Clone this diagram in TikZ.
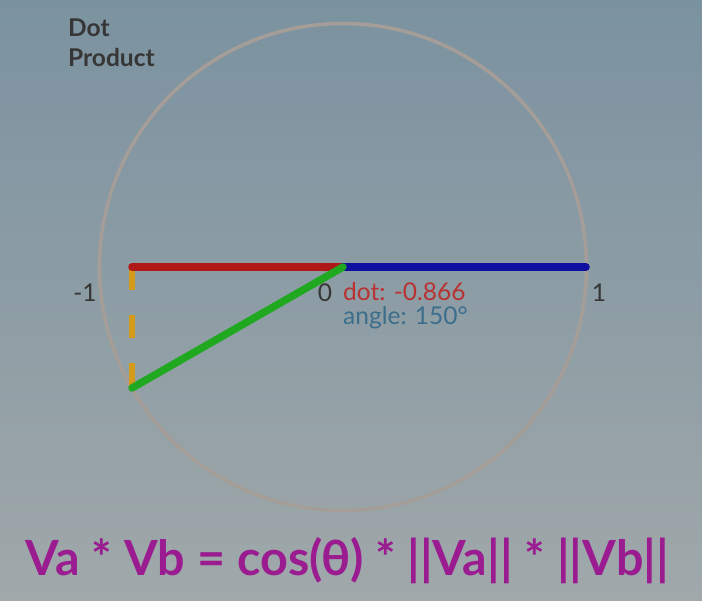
\documentclass[tikz,border=0pt]{standalone}
\usepackage{fontspec}
\setmainfont{Lato}
\definecolor{bgtop}{HTML}{7B92A0}
\definecolor{bgbot}{HTML}{A0A8AA}
\definecolor{ringcol}{HTML}{A59D98}
\definecolor{redvec}{HTML}{B01818}
\definecolor{bluevec}{HTML}{1010A0}
\definecolor{greenvec}{HTML}{20A820}
\definecolor{projcol}{HTML}{D49A1A}
\definecolor{labelcol}{HTML}{363636}
\definecolor{dotcol}{HTML}{B83232}
\definecolor{anglecol}{HTML}{3C6E8C}
\definecolor{formcol}{HTML}{9A1C90}
\tikzset{
  vec/.style={line width=7.5pt, line cap=round},
  axislabel/.style={text=labelcol, font=\fontsize{24.5}{29}\selectfont, inner sep=0pt}
}
\begin{document}
\begin{tikzpicture}[x=1pt, y=-1pt]
        \shade[top color=bgtop, bottom color=bgbot] (0,0) rectangle (702,601);
        \useasboundingbox (0,0) rectangle (702,601);

        \coordinate (origin) at (343,267);
        \draw[ringcol, line width=3.5pt] (origin) circle (243.5);

        \coordinate (tipa) at (586,267);
        \coordinate (tipb) at (132,388);
        \coordinate (foot) at (132,267);

        \draw[projcol, line width=6pt, dash pattern=on 23pt off 25pt] (foot) -- (tipb);
        \draw[vec, redvec] (origin) -- (foot);
        \draw[vec, bluevec] (origin) -- (tipa);
        \draw[vec, greenvec] (origin) -- (tipb);

        \node[axislabel, anchor=base] (minusone) at (85,302) {-1};
        \node[axislabel, anchor=base] (zero) at (325,302) {0};
        \node[axislabel, anchor=base] (one) at (599,302) {1};

        \node[axislabel, text=dotcol, anchor=base west] (dotval) at (343,301) {dot: -0.866};
        \node[axislabel, text=anglecol, anchor=base west] (angleval) at (343,325) {angle: 150°};

        \node[axislabel, align=left, anchor=north west, font=\fontsize{24.5}{29.5}\selectfont\bfseries] (title) at (68,19) {Dot\\Product};

        \node[text=formcol, font=\fontsize{48.5}{52}\selectfont\bfseries, inner sep=0pt, anchor=base] (formula) at (347,575) {Va * Vb = cos(θ) * ||Va|| * ||Vb||};
    \end{tikzpicture}
\end{document}
